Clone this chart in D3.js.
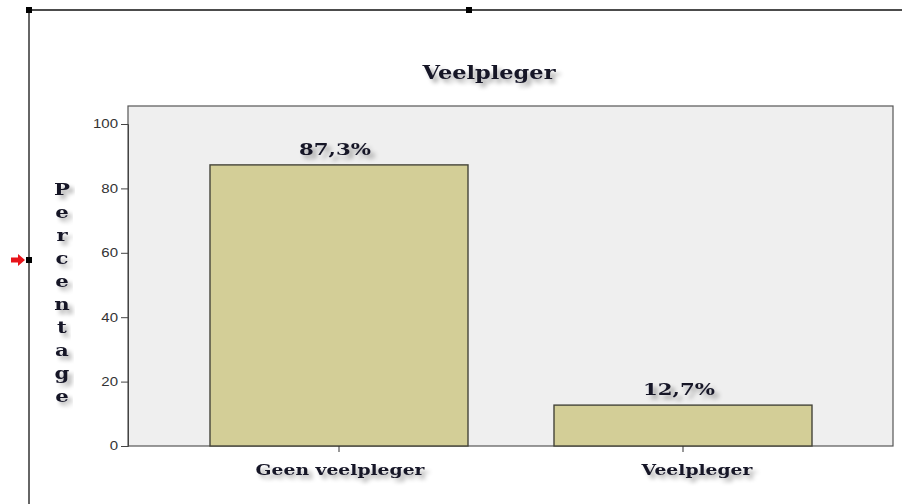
<!DOCTYPE html>
<html>
<head>
<meta charset="utf-8">
<script src="https://cdn.jsdelivr.net/npm/d3@7"></script>
<style>
  body { margin: 0; background: #fff; }
  svg { display: block; }
</style>
</head>
<body>
<div id="chart"></div>
<script>
'use strict';

var categories = ['Geen veelpleger', 'Veelpleger'];
var percentages = [87.3, 12.7];
var valueLabels = ['87,3%', '12,7%'];
var yTicks = [0, 20, 40, 60, 80, 100];
var chartTitle = 'Veelpleger';
var yTitle = 'Percentage';

var width = 902;
var height = 504;
var plot = { left: 128, right: 893, top: 106, bottom: 446 };
var serif = '"DejaVu Serif", "Liberation Serif", serif';
var stretch = 1.25; // the original picture is wider than tall

var svg = d3.select('#chart').append('svg').attr('width', width).attr('height', height);

// soft gray shadow under the bold texts
var defs = svg.append('defs');
var f = defs.append('filter').attr('id', 'shadow').attr('x', '-20%').attr('y', '-40%').attr('width', '150%').attr('height', '200%');
f.append('feGaussianBlur').attr('in', 'SourceAlpha').attr('stdDeviation', 2.2).attr('result', 'blur');
f.append('feOffset').attr('in', 'blur').attr('dx', 3.5).attr('dy', 4).attr('result', 'off');
f.append('feComponentTransfer').attr('in', 'off').attr('result', 'soft')
  .append('feFuncA').attr('type', 'linear').attr('slope', 0.35);
var merge = f.append('feMerge');
merge.append('feMergeNode').attr('in', 'soft');
merge.append('feMergeNode').attr('in', 'SourceGraphic');

function boldText(x0, y0, size, str) {
  return svg.append('text')
    .attr('transform', 'translate(' + x0 + ',' + y0 + ') scale(' + stretch + ',1)')
    .attr('text-anchor', 'middle')
    .attr('font-family', serif).attr('font-weight', 'bold').attr('font-size', size)
    .attr('fill', '#161628').attr('filter', 'url(#shadow)')
    .text(str);
}

// editor frame around the chart
svg.append('line').attr('x1', 29).attr('y1', 10).attr('x2', width).attr('y2', 10).attr('stroke', '#111').attr('stroke-width', 1.5);
svg.append('line').attr('x1', 29).attr('y1', 10).attr('x2', 29).attr('y2', height).attr('stroke', '#333').attr('stroke-width', 1.5);
[[29, 10], [469, 10], [29, 260]].forEach(function (p) {
  svg.append('rect').attr('x', p[0] - 3).attr('y', p[1] - 3).attr('width', 6).attr('height', 6).attr('fill', '#000');
});
svg.append('path').attr('d', 'M 11 257.5 L 18 257.5 L 18 254 L 25 260 L 18 266 L 18 262.5 L 11 262.5 Z').attr('fill', '#e8141b');

var x = d3.scaleBand().domain(categories).range([167, 855]).paddingInner(0.25).paddingOuter(0.125);
var y = d3.scaleLinear().domain([0, 100]).range([plot.bottom, 124]);

// plot background
svg.append('rect').attr('x', plot.left).attr('y', plot.top)
  .attr('width', plot.right - plot.left).attr('height', plot.bottom - plot.top)
  .attr('fill', '#efefef').attr('stroke', '#555').attr('stroke-width', 1.2);

// bars
svg.selectAll('rect.bar').data(percentages).enter().append('rect')
  .attr('class', 'bar')
  .attr('x', function (d, i) { return x(categories[i]); })
  .attr('y', function (d) { return y(d); })
  .attr('width', x.bandwidth())
  .attr('height', function (d) { return y(0) - y(d); })
  .attr('fill', '#d3ce97')
  .attr('stroke', '#45453a')
  .attr('stroke-width', 1.4);

// axes
var yAxis = svg.append('g').attr('transform', 'translate(' + plot.left + ',0)')
  .call(d3.axisLeft(y).tickValues(yTicks).tickSize(7).tickPadding(3));
yAxis.select('.domain').attr('stroke', '#444');
yAxis.selectAll('line').attr('stroke', '#444');
yAxis.selectAll('text')
  .attr('x', -10 / stretch)
  .attr('transform', 'scale(' + stretch + ',1)')
  .attr('font-family', 'Arial, "Liberation Sans", sans-serif').attr('font-size', 12).attr('fill', '#333');

var xAxis = svg.append('g').attr('transform', 'translate(0,' + plot.bottom + ')')
  .call(d3.axisBottom(x).tickSize(6).tickFormat(''));
xAxis.select('.domain').remove();
xAxis.selectAll('line').attr('stroke', '#333');

// category labels (the second one sits a bit right of its tick in the original)
categories.forEach(function (c, i) {
  boldText(x(c) + x.bandwidth() / 2 + (i === 1 ? 14 : 1), 475, 15, c);
});

// value labels
percentages.forEach(function (d, i) {
  boldText(x(categories[i]) + x.bandwidth() / 2 - 4, y(d) - 10, 17, valueLabels[i]);
});

// title
boldText(489, 79, 18, chartTitle);

// stacked y title
yTitle.split('').forEach(function (ch, i) {
  boldText(62, 195 + i * 23, 17, ch);
});
</script>
</body>
</html>
